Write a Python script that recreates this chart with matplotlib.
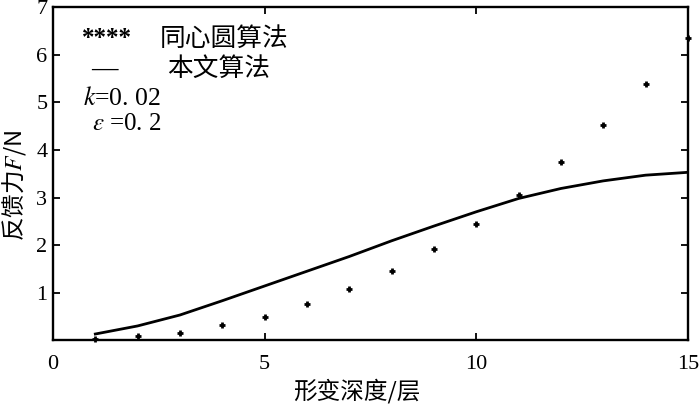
import numpy as np
import matplotlib
matplotlib.use('Agg')
import matplotlib.pyplot as plt

# 数据
depth = [1, 2, 3, 4, 5, 6, 7, 8, 9, 10, 11, 12, 13, 14, 15]
force_circle = [0.03, 0.08, 0.16, 0.31, 0.49, 0.76, 1.07, 1.46, 1.91, 2.44,
                3.05, 3.75, 4.52, 5.39, 6.36]
force_ours = [0.13, 0.30, 0.53, 0.83, 1.14, 1.45, 1.76, 2.09, 2.40, 2.70,
              2.98, 3.19, 3.35, 3.47, 3.53]
xticks = [0, 5, 10, 15]
yticks = [1, 2, 3, 4, 5, 6, 7]

plt.rcParams['font.family'] = ['Liberation Serif', 'Noto Sans CJK SC']
plt.rcParams['mathtext.fontset'] = 'stix'
cjk = ['Noto Sans CJK SC', 'Liberation Serif']

fig = plt.figure(figsize=(7, 4.05), dpi=100)
ax = fig.add_axes([0.0757, 0.16, 0.907, 0.822])

ax.plot(depth, force_circle, linestyle='none', marker='+', markersize=4.5,
        markeredgewidth=2, color='black', clip_on=False)
ax.plot(depth, force_ours, color='black', linewidth=2)

ax.set_xlim(0, 15)
ax.set_ylim(0, 7)
ax.set_xticks(xticks)
ax.set_yticks(yticks)
ax.tick_params(direction='in', top=True, right=True, labelsize=16,
               length=5, width=1.3, pad=11)
ax.tick_params(axis='y', pad=4)
for s in ax.spines.values():
    s.set_linewidth(1.7)

ax.set_xlabel('形变深度/层', family=cjk, fontsize=17)
ax.xaxis.set_label_coords(0.479, -0.115)
ax.set_ylabel('反馈力$F$/N', family=cjk, fontsize=17)
ax.yaxis.set_label_coords(-0.04, 0.464)

# 图例（文字形式）
ax.text(0.045, 0.905, '****', transform=ax.transAxes, fontsize=18,
        fontweight='bold', va='center')
ax.text(0.168, 0.905, '同心圆算法', transform=ax.transAxes, family=cjk,
        fontsize=18.5, va='center')
ax.text(0.06, 0.815, '—', transform=ax.transAxes, fontsize=19,
        fontweight='bold', va='center')
ax.text(0.18, 0.815, '本文算法', transform=ax.transAxes, family=cjk,
        fontsize=18.5, va='center')
ax.text(0.048, 0.725, '$k$=0. 02', transform=ax.transAxes, fontsize=18.5,
        va='center')
ax.text(0.062, 0.65, r'$\varepsilon$ =0. 2', transform=ax.transAxes,
        fontsize=18, va='center')

fig.savefig('out.png', dpi=100)
